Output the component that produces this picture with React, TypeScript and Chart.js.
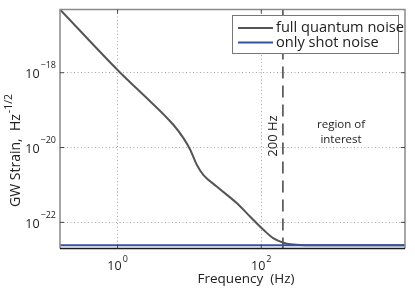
import React, { useEffect, useRef } from "react";
import { Chart, registerables } from "chart.js";

Chart.register(...registerables);

// ---- data ----
const frequencyHz = [0.158, 1.09, 2.3, 6.01, 8.3, 10.3, 12.7, 15.7, 24.2, 45.9, 70.3, 108, 148, 204, 254, 398, 10000];
const quantumNoise = [4.9e-17, 1e-18, 2.54e-19, 4.0e-20, 1.76e-20, 8.57e-21, 3.4e-21, 1.84e-21, 8.95e-22, 3.22e-22, 1.41e-22, 6.22e-23, 3.73e-23, 2.85e-23, 2.58e-23, 2.46e-23, 2.45e-23];
const shotFreq = [0.158, 10000];
const shotNoise = [2.45e-23, 2.45e-23];
const markerFreq = [200, 200];
const markerStrain = [4.9e-17, 2e-23];
const xTicks = [1, 100];
const yTicks = [1e-22, 1e-20, 1e-18];
const xTickExp = ["0", "2"];
const yTickExp = ["−22", "−20", "−18"];
const seriesLabels = ["full quantum noise", "only shot noise"];
const xRange = [0.158, 10000];
const yRange = [2e-23, 4.9e-17];

const FONT = "'Open Sans', 'DejaVu Sans', sans-serif";
const GRAY = "#555555";
const BLUE = "#3553a3";

const decorPlugin = {
  id: "decor",
  afterDatasetsDraw(chart: any) {
    const { ctx, chartArea: a, scales } = chart;
    const xs = scales.x;
    const ys = scales.y;
    ctx.save();
    // frame
    ctx.lineWidth = 1.5;
    ctx.strokeStyle = "#8a8a8a";
    ctx.beginPath();
    ctx.moveTo(a.left, a.bottom);
    ctx.lineTo(a.left, a.top);
    ctx.lineTo(a.right, a.top);
    ctx.lineTo(a.right, a.bottom);
    ctx.stroke();
    ctx.strokeStyle = "#1a1a1a";
    ctx.beginPath();
    ctx.moveTo(a.left, a.bottom);
    ctx.lineTo(a.right, a.bottom);
    ctx.stroke();
    // inner tick marks
    ctx.lineWidth = 1;
    ctx.strokeStyle = "#444";
    ctx.beginPath();
    xTicks.forEach((v) => {
      const px = xs.getPixelForValue(v);
      ctx.moveTo(px, a.bottom);
      ctx.lineTo(px, a.bottom - 4);
      ctx.moveTo(px, a.top);
      ctx.lineTo(px, a.top + 4);
    });
    yTicks.forEach((v) => {
      const py = ys.getPixelForValue(v);
      ctx.moveTo(a.left, py);
      ctx.lineTo(a.left + 4, py);
      ctx.moveTo(a.right, py);
      ctx.lineTo(a.right - 4, py);
    });
    ctx.stroke();

    // tick labels (10 with superscript exponent)
    ctx.fillStyle = "#222";
    ctx.textBaseline = "alphabetic";
    const baseFont = `12.5px ${FONT}`;
    const supFont = `9px ${FONT}`;
    xTicks.forEach((v, i) => {
      const px = xs.getPixelForValue(v);
      ctx.font = baseFont;
      const wb = ctx.measureText("10").width;
      ctx.font = supFont;
      const ws = ctx.measureText(xTickExp[i]).width;
      const left = px - (wb + 1 + ws) / 2;
      ctx.textAlign = "left";
      ctx.font = baseFont;
      ctx.fillText("10", left, a.bottom + 21.2);
      ctx.font = supFont;
      ctx.fillText(xTickExp[i], left + wb + 1, a.bottom + 13.5);
    });
    yTicks.forEach((v, i) => {
      const py = ys.getPixelForValue(v);
      ctx.font = supFont;
      const ws = ctx.measureText(yTickExp[i]).width;
      ctx.textAlign = "left";
      const right = a.left - 4;
      ctx.fillText(yTickExp[i], right - ws, py - 4.4);
      ctx.font = baseFont;
      const wb = ctx.measureText("10").width;
      ctx.fillText("10", right - ws - 1 - wb, py + 5.6);
    });

    // annotations
    ctx.fillStyle = "#222";
    ctx.textBaseline = "middle";
    ctx.textAlign = "center";
    const mx = xs.getPixelForValue(markerFreq[0]);
    ctx.save();
    ctx.translate(mx - 10, 136);
    ctx.rotate(-Math.PI / 2);
    ctx.font = `13px ${FONT}`;
    ctx.fillText("200 Hz", 0, 0);
    ctx.restore();
    ctx.font = `11.5px ${FONT}`;
    ctx.fillText("region of", 341, 125);
    ctx.fillText("interest", 341, 140);

    // legend
    const lx = 232, ly = 15, lw = 166, lh = 38;
    ctx.fillStyle = "#fff";
    ctx.fillRect(lx, ly, lw, lh);
    ctx.strokeStyle = "#777";
    ctx.lineWidth = 1;
    ctx.strokeRect(lx + 0.5, ly + 0.5, lw, lh);
    const colors = [GRAY, BLUE];
    seriesLabels.forEach((lab, i) => {
      const yy = ly + 13 + i * 14.5;
      ctx.strokeStyle = colors[i];
      ctx.lineWidth = 2;
      ctx.beginPath();
      ctx.moveTo(238, yy);
      ctx.lineTo(273, yy);
      ctx.stroke();
      ctx.fillStyle = "#222";
      ctx.textAlign = "left";
      ctx.font = `14.6px ${FONT}`;
      ctx.fillText(lab, 276, yy);
    });

    // axis titles
    ctx.fillStyle = "#222";
    ctx.textAlign = "center";
    ctx.font = `13.5px ${FONT}`;
    ctx.fillText("Frequency  (Hz)", 246, 279);

    ctx.save();
    ctx.translate(16, 0);
    ctx.rotate(-Math.PI / 2);
    ctx.textAlign = "left";
    ctx.font = `14px ${FONT}`;
    const main = "GW Strain,  Hz";
    const startY = 207;
    ctx.fillText(main, -startY, 0);
    const w = ctx.measureText(main).width;
    ctx.font = `10.5px ${FONT}`;
    ctx.fillText("-1/2", -startY + w + 1, -7);
    ctx.restore();

    ctx.restore();
  },
};

export default function App() {
  const ref = useRef<HTMLCanvasElement>(null);
  useEffect(() => {
    if (!ref.current) return;
    const chart = new Chart(ref.current, {
      type: "line",
      data: {
        datasets: [
          {
            label: seriesLabels[1],
            data: shotFreq.map((x, i) => ({ x, y: shotNoise[i] })),
            borderColor: BLUE,
            borderWidth: 2,
            pointRadius: 0,
            order: 0,
          },
          {
            label: seriesLabels[0],
            data: frequencyHz.map((x, i) => ({ x, y: quantumNoise[i] })),
            borderColor: GRAY,
            borderWidth: 2,
            pointRadius: 0,
            cubicInterpolationMode: "monotone",
            order: 1,
          },
          {
            label: "200 Hz",
            data: markerFreq.map((x, i) => ({ x, y: markerStrain[i] })),
            borderColor: "#111",
            borderWidth: 1.2,
            borderDash: [12, 7],
            pointRadius: 0,
            order: 2,
          },
        ],
      },
      options: {
        animation: false,
        responsive: false,
        layout: { padding: { top: 9.5, right: 10, left: 0, bottom: 0 } },
        plugins: { legend: { display: false }, tooltip: { enabled: false } },
        scales: {
          x: {
            type: "logarithmic",
            min: xRange[0],
            max: xRange[1],
            afterBuildTicks: (s: any) => {
              s.ticks = xTicks.map((value) => ({ value }));
            },
            afterFit: (s: any) => {
              s.height = 42.5;
            },
            border: { display: false, dash: [1, 2.5] },
            grid: { color: "#a8a8a8", lineWidth: 1, drawTicks: false },
            ticks: { display: false },
          },
          y: {
            type: "logarithmic",
            min: yRange[0],
            max: yRange[1],
            afterBuildTicks: (s: any) => {
              s.ticks = yTicks.map((value) => ({ value }));
            },
            afterFit: (s: any) => {
              s.width = 60;
            },
            border: { display: false, dash: [1, 2.5] },
            grid: { color: "#a8a8a8", lineWidth: 1, drawTicks: false },
            ticks: { display: false },
          },
        },
      },
      plugins: [decorPlugin],
    } as any);
    return () => chart.destroy();
  }, []);
  return (
    <div style={{ position: "absolute", left: 0, top: 0, width: 415, height: 291, background: "#fff" }}>
      <canvas ref={ref} width={415} height={291} style={{ display: "block" }} />
    </div>
  );
}
